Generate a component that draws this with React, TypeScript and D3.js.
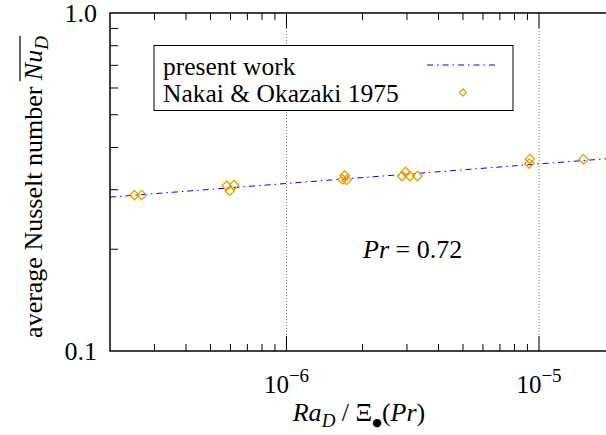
import React, { useRef, useLayoutEffect, useState } from 'react';
import * as d3 from 'd3';

// present work (fitted line)
const lineRa = [2e-7, 1e-6, 1e-5, 2e-5];
const lineNu = [0.2853, 0.3131, 0.3576, 0.3722];

// Nakai & Okazaki 1975 measurements
const expRa = [2.5e-7, 2.67e-7, 5.8e-7, 6.2e-7, 5.95e-7, 1.7e-6, 1.67e-6, 1.73e-6, 2.96e-6, 2.87e-6, 3.08e-6, 3.3e-6, 9.2e-6, 9.15e-6, 1.5e-5];
const expNu = [0.2893, 0.2893, 0.3083, 0.3098, 0.298, 0.3305, 0.3217, 0.3206, 0.3385, 0.3294, 0.3294, 0.3294, 0.3698, 0.3586, 0.3691];

const xMajor = [1e-6, 1e-5];
const xMajorExp = ['\u22126', '\u22125'];
const yLabels = [0.1, 1.0];

const FONT = "'Liberation Serif', 'Times New Roman', serif";
const ORANGE = '#e69f00';
const BLUE = '#0000ff';

const App = () => {
  const width = 606;
  const height = 435;
  const margin = { left: 110, top: 13, bottom: 351, right: 615 };

  const x = d3.scaleLog().domain([2e-7, 2e-5]).range([margin.left, margin.right]);
  const y = d3.scaleLog().domain([0.1, 1]).range([margin.bottom, margin.top]);

  const xMinor = x.ticks().filter(t => !xMajor.some(m => Math.abs(m - t) / m < 1e-6) && t > 2.01e-7);
  const yMinor = y.ticks().filter(t => t > 0.101 && t < 0.99);

  const line = d3.line<number>()
    .x((_, i) => x(lineRa[i]))
    .y(d => y(d));

  const diamond = (cx: number, cy: number, r: number) =>
    `M${cx},${cy - r}L${cx + r},${cy}L${cx},${cy + r}L${cx - r},${cy}Z`;

  const nuRef = useRef<SVGTSpanElement>(null);
  const [bar, setBar] = useState<{ x1: number; x2: number } | null>(null);
  useLayoutEffect(() => {
    if (nuRef.current) {
      const b = nuRef.current.getBBox();
      setBar({ x1: b.x, x2: b.x + b.width });
    }
  }, []);

  return (
    <svg width={width} height={height} style={{ position: 'absolute', left: 0, top: 0, background: '#fff' }} fontFamily={FONT}>
      <defs>
        <clipPath id="plot">
          <rect x={margin.left} y={margin.top} width={margin.right - margin.left} height={margin.bottom - margin.top} />
        </clipPath>
      </defs>

      {/* grid */}
      {xMajor.map(t => (
        <line key={t} x1={x(t)} x2={x(t)} y1={margin.top} y2={margin.bottom} stroke="#777" strokeWidth={1} strokeDasharray="1,2" />
      ))}

      {/* ticks */}
      {xMinor.map(t => (
        <g key={t}>
          <line x1={x(t)} x2={x(t)} y1={margin.bottom} y2={margin.bottom - 7} stroke="#000" />
          <line x1={x(t)} x2={x(t)} y1={margin.top} y2={margin.top + 7} stroke="#000" />
        </g>
      ))}
      {xMajor.map(t => (
        <g key={t}>
          <line x1={x(t)} x2={x(t)} y1={margin.bottom} y2={margin.bottom - 15} stroke="#000" />
          <line x1={x(t)} x2={x(t)} y1={margin.top} y2={margin.top + 15} stroke="#000" />
        </g>
      ))}
      {yMinor.map(t => (
        <line key={t} x1={margin.left} x2={margin.left + 8} y1={y(t)} y2={y(t)} stroke="#000" />
      ))}

      {/* legend */}
      <rect x={154} y={45.5} width={359} height={65} fill="#fff" stroke="#000" strokeWidth={1} />
      <text x={163} y={75} fontSize={25.5}>present work</text>
      <text x={163} y={101.5} fontSize={25.5}>Nakai &amp; Okazaki 1975</text>
      <line x1={427} x2={498} y1={65} y2={65} stroke={BLUE} strokeWidth={1} strokeDasharray="6,4,1.5,4" />
      <path d={diamond(463, 92.5, 3.5)} fill="none" stroke={ORANGE} strokeWidth={1.3} />

      {/* data */}
      <g clipPath="url(#plot)">
        <path d={line(lineNu) || ''} fill="none" stroke={BLUE} strokeWidth={1} strokeDasharray="6,4,1.5,4" />
        {expRa.map((r, i) => (
          <path key={i} d={diamond(x(r), y(expNu[i]), 4.7)} fill="none" stroke={ORANGE} strokeWidth={1.3} />
        ))}
      </g>

      {/* frame */}
      <path d={`M${margin.right},${margin.top}H${margin.left}V${margin.bottom}H${margin.right}`} fill="none" stroke="#000" strokeWidth={1.5} />

      {/* annotation */}
      <text x={363} y={258} fontSize={26}>
        <tspan fontStyle="italic">Pr</tspan> = 0.72
      </text>

      {/* y tick labels */}
      {yLabels.map(t => (
        <text key={t} x={97} y={y(t) + 9} fontSize={26} textAnchor="end">{t.toFixed(1)}</text>
      ))}

      {/* x tick labels */}
      {xMajor.map((t, i) => (
        <text key={t} x={x(t)} y={393} fontSize={25} textAnchor="middle">
          10<tspan fontSize={19} dy={-11}>{xMajorExp[i]}</tspan>
        </text>
      ))}

      {/* x title */}
      <text x={359} y={421} fontSize={26} textAnchor="middle">
        <tspan fontStyle="italic">Ra</tspan>
        <tspan fontSize={19} fontStyle="italic" dy={6}>D</tspan>
        <tspan dy={-6}> / Ξ</tspan>
        <tspan fontSize={11} fontFamily="'DejaVu Sans', sans-serif" dy={5}>●</tspan>
        <tspan dy={-5}>(</tspan>
        <tspan fontStyle="italic">Pr</tspan>)
      </text>

      {/* y title */}
      <g transform="translate(42,187) rotate(-90)">
        <text x={0} y={0} fontSize={26} textAnchor="middle">
          average Nusselt number <tspan ref={nuRef}><tspan fontStyle="italic">Nu</tspan><tspan fontSize={19} fontStyle="italic" dy={6}>D</tspan></tspan>
        </text>
        {bar && <line x1={bar.x1} x2={bar.x2} y1={-22} y2={-22} stroke="#000" strokeWidth={1.2} />}
      </g>
    </svg>
  );
};

export default App;
